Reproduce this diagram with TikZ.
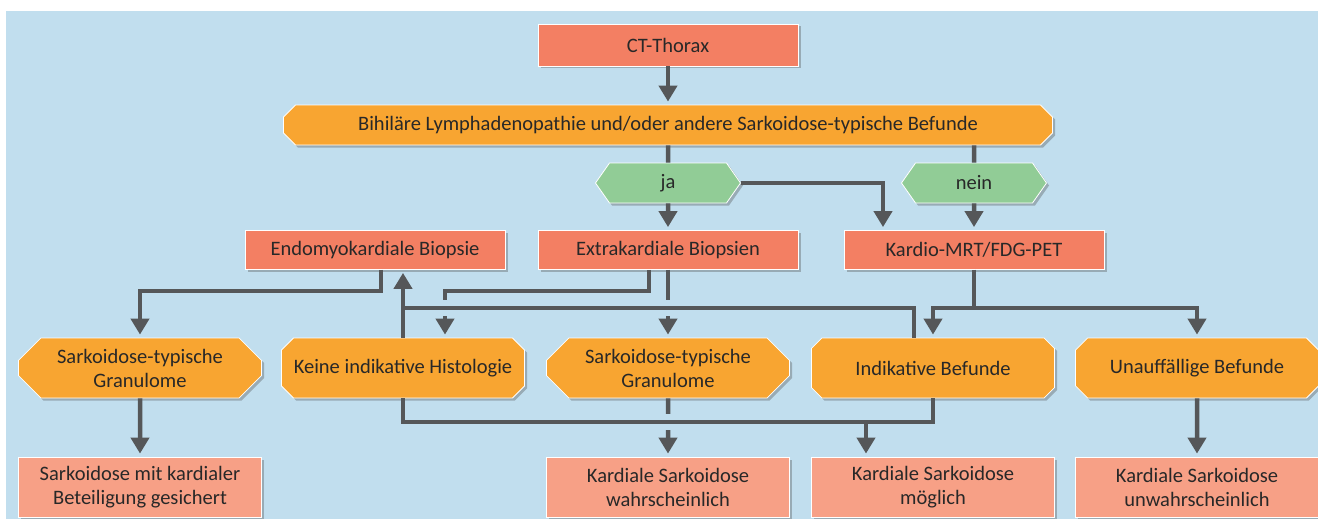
\documentclass[tikz,border=0pt]{standalone}
\usepackage{fontspec}
\setmainfont{Carlito}
\usetikzlibrary{shapes.misc, shapes.symbols, arrows.meta, shadows}

\definecolor{bgblue}{RGB}{193,222,238}
\definecolor{salmon}{RGB}{243,127,99}
\definecolor{lightsalmon}{RGB}{247,160,134}
\definecolor{amber}{RGB}{248,165,49}
\definecolor{mint}{RGB}{145,204,150}
\definecolor{linegray}{RGB}{85,87,89}
\definecolor{textgray}{RGB}{40,40,40}

\begin{document}
\begin{tikzpicture}[
    x=1pt, y=-1pt,
    base/.style={
        draw=white,
        line width=0.8pt,
        text=textgray,
        align=center,
        inner sep=0pt,
        font=\fontsize{20.5}{24}\selectfont,
        drop shadow={shadow xshift=2.5pt, shadow yshift=-2.5pt, opacity=0.35, fill=black!70}
    },
    exam/.style={base, rectangle, fill=salmon, minimum width=260pt, minimum height=39pt},
    finding/.style={
        base,
        chamfered rectangle,
        chamfered rectangle xsep=20pt,
        fill=amber,
        minimum width=243pt,
        minimum height=60pt
    },
    answer/.style={
        base,
        signal,
        signal to=east and west,
        signal pointer angle=110,
        fill=mint,
        minimum width=145pt,
        minimum height=40pt
    },
    result/.style={base, rectangle, fill=lightsalmon, minimum width=243pt, minimum height=60pt},
    line/.style={draw=linegray, line width=4.5pt},
    arrow/.style={line, -{Triangle[length=16pt, width=18pt]}, shorten >=3pt},
    halo/.style={draw=bgblue, line width=16pt}
]

    % -- Hintergrund --
    \useasboundingbox (0,0) rectangle (1318,519);
    \fill[bgblue] (6,11) rectangle (1318,519);

    % -- Bildgebung --
    \node[exam, minimum height=42pt] (ct) at (668,45) {CT-Thorax};
    \node[finding, minimum width=769pt, minimum height=40pt, chamfered rectangle xsep=10pt] (bih) at (668,125)
        {Bihiläre Lymphadenopathie und/oder andere Sarkoidose-typische Befunde};
    \node[answer] (ja) at (668,183) {ja};
    \node[answer] (nein) at (974,183) {nein};

    % -- Diagnostik --
    \node[exam] (endo) at (375,250) {Endomyokardiale Biopsie};
    \node[exam] (extra) at (668,250) {Extrakardiale Biopsien};
    \node[exam] (kardio) at (974,250) {Kardio-MRT/FDG-PET};

    % -- Befunde --
    \node[finding] (sarkL) at (140,368) {Sarkoidose-typische\\Granulome};
    \node[finding] (keine) at (403,368) {Keine indikative Histologie};
    \node[finding] (sarkM) at (668,368) {Sarkoidose-typische\\Granulome};
    \node[finding] (indik) at (933,368) {Indikative Befunde};
    \node[finding] (unauf) at (1197,368) {Unauffällige Befunde};

    % -- Ergebnis --
    \node[result] (gesich) at (140,487) {Sarkoidose mit kardialer\\Beteiligung gesichert};
    \node[result] (wahrsch) at (668,487) {Kardiale Sarkoidose\\wahrscheinlich};
    \node[result] (moegl) at (933,487) {Kardiale Sarkoidose\\möglich};
    \node[result] (unwahr) at (1197,487) {Kardiale Sarkoidose\\unwahrscheinlich};

    % Hilfspunkte für die Querlinien
    \coordinate (oben) at (668,308);
    \coordinate (unten) at (668,422);

    % -- Verbindungen oben --
    \draw[arrow] (ct) -- (bih);
    \draw[line] (bih) -- (ja);
    \draw[line] (nein |- bih.south) -- (nein);
    \draw[arrow] (ja) -- (extra);
    \draw[arrow] (ja.east) -| ([xshift=-91pt]kardio.north);
    \draw[arrow] (nein) -- (kardio);

    % -- Verbindungen Mitte --
    \draw[arrow] ([xshift=6pt]endo.south) -- ++(0,21) -| (sarkL.north);
    \draw[arrow] ([xshift=-19pt]extra.south) -- ++(0,21) -| ([xshift=42pt]keine.north);
    \draw[arrow] (extra) -- (sarkM);
    \draw[arrow] (kardio.south) -- ++(0,38) -| (indik.north);
    \draw[arrow] (kardio.south) -- ++(0,38) -| (unauf.north);

    % Rückweg zur Biopsie (überkreuzt die Pfeile)
    \draw[halo] ([xshift=-19pt]indik.north |- oben) -- (keine.north |- oben);
    \draw[line] ([xshift=-19pt]indik.north) |- (keine.north |- oben);
    \draw[arrow] (keine.north) -- ([xshift=28pt]endo.south);

    % -- Verbindungen unten --
    \draw[arrow] (sarkL) -- (gesich);
    \draw[arrow] (sarkM) -- (wahrsch);
    \draw[halo] (keine.south |- unten) -- (indik.south |- unten);
    \draw[line] (keine.south) |- (unten) -| (indik.south);
    \draw[arrow] ([xshift=-67pt]moegl.north |- unten) -- ([xshift=-67pt]moegl.north);
    \draw[arrow] (unauf) -- (unwahr);

\end{tikzpicture}
\end{document}
